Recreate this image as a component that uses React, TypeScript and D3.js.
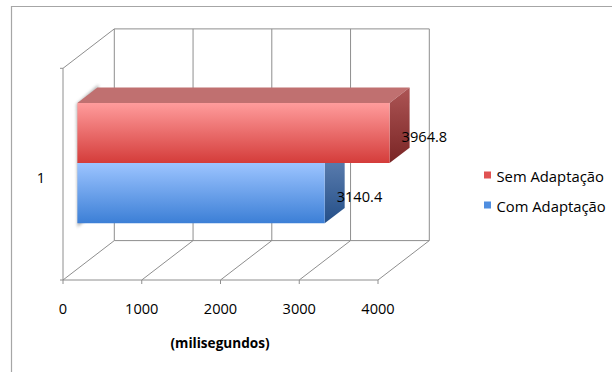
import React from "react";
import * as d3 from "d3";

const categories = ["1"];
const seriesNames = ["Com Adaptação", "Sem Adaptação"]; // bottom to top
const seriesValues = [3140.4, 3964.8];
const tickValues = [0, 1000, 2000, 3000, 4000];
const axisTitle = "(milisegundos)";

const W = 612;
const H = 372;
const FONT = "'Open Sans', 'Liberation Sans', sans-serif";

export default function App() {
  const x = d3.scaleLinear().domain([0, 4000]).range([63, 378]);
  const yTop = 68.3;
  const yBot = 280;
  const D = [51.3, -39.4]; // depth vector
  const cat = d3.scaleBand().domain(categories).range([yTop, yBot]).paddingInner(0).paddingOuter(0.38);
  const ser = d3.scaleBand().domain(seriesNames.slice().reverse()).range([cat(categories[0])!, cat(categories[0])! + cat.bandwidth()]);
  const f0 = 0.28;
  const fd = 0.39;
  const P = (vx: number, vy: number, f: number): [number, number] => [vx + f * D[0], vy + f * D[1]];
  const pts = (arr: [number, number][]) => arr.map((p) => p.join(",")).join(" ");
  const gridStroke = "#8e8e8e";

  const colors = [
    { front: "front-blue", side: "side-blue", top: "#6f93c8", leg: "#4f8ee0" },
    { front: "front-red", side: "side-red", top: "#c07070", leg: "#e05252" },
  ];

  const bars = seriesNames.map((name, i) => {
    const v = seriesValues[i];
    const y0 = ser(name)!;
    const y1 = y0 + ser.bandwidth();
    const xl = x(0);
    const xr = x(v);
    const fl = P(xl, y0, f0), fr = P(xr, y0, f0), frb = P(xr, y1, f0), flb = P(xl, y1, f0);
    const bl = P(xl, y0, f0 + fd), br = P(xr, y0, f0 + fd), brb = P(xr, y1, f0 + fd);
    return { name, v, i, fl, fr, frb, flb, bl, br, brb, y0, y1 };
  });

  const top = bars[1];
  const bot = bars[0];
  const shadow: [number, number][] = [
    [top.fl[0] - 1, top.fl[1] + 1],
    [top.bl[0] + 1, top.bl[1] - 3],
    [top.bl[0] + 3, P(x(0), bot.y1, f0 + fd)[1]],
    [bot.flb[0], bot.flb[1] + 4],
  ];

  return (
    <svg width={W} height={H} style={{ position: "absolute", left: 0, top: 0 }}>
      <defs>
        <linearGradient id="front-red" x1="0" y1="0" x2="0" y2="1">
          <stop offset="0" stopColor="#ff9c9c" />
          <stop offset="1" stopColor="#d43c3a" />
        </linearGradient>
        <linearGradient id="side-red" x1="0" y1="0" x2="0" y2="1">
          <stop offset="0" stopColor="#ad5555" />
          <stop offset="1" stopColor="#7a2525" />
        </linearGradient>
        <linearGradient id="front-blue" x1="0" y1="0" x2="0" y2="1">
          <stop offset="0" stopColor="#9cc4ff" />
          <stop offset="1" stopColor="#3c7fd6" />
        </linearGradient>
        <linearGradient id="side-blue" x1="0" y1="0" x2="0" y2="1">
          <stop offset="0" stopColor="#6585b5" />
          <stop offset="1" stopColor="#244f88" />
        </linearGradient>
        <filter id="blur" x="-50%" y="-50%" width="200%" height="200%">
          <feGaussianBlur stdDeviation="1.6" />
        </filter>
      </defs>
      <rect x={0} y={0} width={W} height={H} fill="#ffffff" />
      {/* outer frame */}
      <path d={`M11.5,${H} L11.5,6.5 L${W},6.5`} fill="none" stroke="#a6a6a6" strokeWidth={1.2} />

      {/* back wall and floor */}
      <g stroke={gridStroke} strokeWidth={1} fill="none">
        {tickValues.map((t) => {
          const a = P(x(t), yTop, 1);
          const b = P(x(t), yBot, 1);
          const c = P(x(t), yBot, 0);
          return (
            <g key={t}>
              <line x1={a[0]} y1={a[1]} x2={b[0]} y2={b[1]} />
              <line x1={b[0]} y1={b[1]} x2={c[0]} y2={c[1]} />
              <line x1={c[0]} y1={c[1]} x2={c[0]} y2={c[1] + 4} />
            </g>
          );
        })}
        <line x1={P(x(0), yTop, 1)[0]} y1={P(x(0), yTop, 1)[1]} x2={P(x(4000), yTop, 1)[0]} y2={P(x(4000), yTop, 1)[1]} />
        <line x1={P(x(0), yBot, 1)[0]} y1={P(x(0), yBot, 1)[1]} x2={P(x(4000), yBot, 1)[0]} y2={P(x(4000), yBot, 1)[1]} />
        <line x1={x(0)} y1={yBot} x2={x(4000)} y2={yBot} />
        <line x1={x(0)} y1={yTop} x2={x(0)} y2={yBot} />
        <line x1={x(0)} y1={yTop} x2={P(x(0), yTop, 1)[0]} y2={P(x(0), yTop, 1)[1]} />
        <line x1={x(0) - 3} y1={yTop} x2={x(0)} y2={yTop} />
        <line x1={x(0) - 3} y1={yBot} x2={x(0)} y2={yBot} />
      </g>

      {/* shadow of the bar ends */}
      <polygon points={pts(shadow)} fill="#7a7a7a" opacity={0.55} filter="url(#blur)" />

      {/* bars */}
      {bars.map((b) => (
        <g key={b.name}>
          <polygon points={pts([b.fl, b.bl, b.br, b.fr])} fill={colors[b.i].top} />
          <polygon points={pts([b.fr, b.br, b.brb, b.frb])} fill={`url(#${colors[b.i].side})`} />
          <polygon points={pts([b.fl, b.fr, b.frb, b.flb])} fill={`url(#${colors[b.i].front})`} />
        </g>
      ))}

      {/* value labels */}
      {bars.map((b) => {
        const p = P(x(b.v), (b.y0 + b.y1) / 2, f0 + fd / 2);
        return (
          <text key={b.name} x={p[0] + 2} y={p[1] + 16.5} fontFamily={FONT} fontSize={14.6} fill="#000">
            {b.v.toFixed(1)}
          </text>
        );
      })}

      {/* category label */}
      {categories.map((c) => (
        <text key={c} x={45} y={183} fontFamily={FONT} fontSize={14.6} textAnchor="end" fill="#000">
          {c}
        </text>
      ))}

      {/* x tick labels */}
      {tickValues.map((t) => (
        <text key={t} x={x(t)} y={314} fontFamily={FONT} fontSize={14.6} textAnchor="middle" fill="#000">
          {t}
        </text>
      ))}
      <text x={220} y={348} fontFamily={FONT} fontSize={13.6} fontWeight="bold" textAnchor="middle" fill="#000">
        {axisTitle}
      </text>

      {/* legend */}
      {seriesNames
        .slice()
        .reverse()
        .map((name, k) => {
          const i = seriesNames.indexOf(name);
          const yy = 182 + k * 30;
          return (
            <g key={name}>
              <rect x={484} y={yy - 10.5} width={7} height={7} fill={colors[i].leg} />
              <text x={496.5} y={yy} fontFamily={FONT} fontSize={14.8} fill="#000">
                {name}
              </text>
            </g>
          );
        })}
    </svg>
  );
}
